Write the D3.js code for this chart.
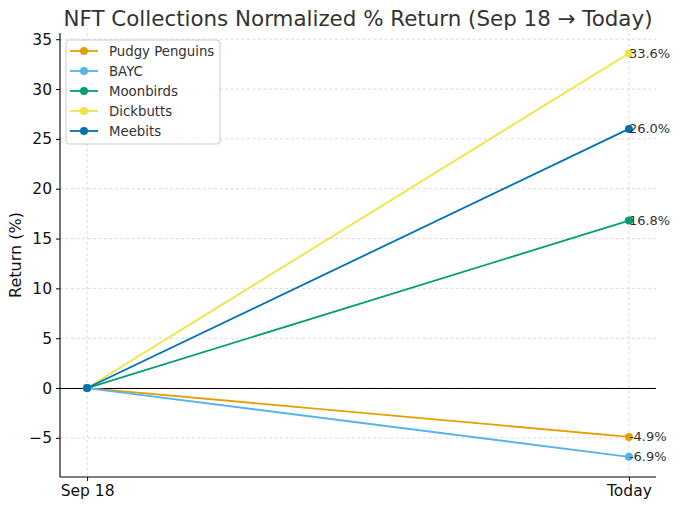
<!DOCTYPE html>
<html><head><meta charset="utf-8">
<script src="https://cdn.jsdelivr.net/npm/d3@7"></script>
<style>body{margin:0;background:#fff}svg{display:block}text{font-family:"DejaVu Sans",sans-serif}</style>
</head><body><svg id="c" width="680" height="508"></svg>
<script>
const categories = ["Sep 18", "Today"];
const seriesNames = ["Pudgy Penguins", "BAYC", "Moonbirds", "Dickbutts", "Meebits"];
const pudgy = [0, -4.9];
const bayc = [0, -6.9];
const moonbirds = [0, 16.8];
const dickbutts = [0, 33.6];
const meebits = [0, 26.0];
const colors = ["#E69F00", "#56B4E9", "#009E73", "#F0E442", "#0072B2"];
const yTicks = [-5, 0, 5, 10, 15, 20, 25, 30, 35];
const title = "NFT Collections Normalized % Return (Sep 18 \u2192 Today)";
const yLabel = "Return (%)";

const series = seriesNames.map((n, i) => ({name: n, values: [pudgy, bayc, moonbirds, dickbutts, meebits][i], color: colors[i]}));

const svg = d3.select("#c");
const L = 60, R = 656, T = 33, B = 477;
const x = d3.scaleLinear().domain([-0.05, 1.05]).range([L, R]);
const y = d3.scaleLinear().domain([-8.925, 35.625]).range([B, T]);

// grid
const g = svg.append("g");
g.selectAll(".gy").data(yTicks).join("line")
  .attr("x1", L).attr("x2", R).attr("y1", d => y(d)).attr("y2", d => y(d))
  .attr("stroke", "#cfcfcf").attr("stroke-width", 0.8).attr("stroke-dasharray", "3,2.5");
g.selectAll(".gx").data(categories).join("line")
  .attr("x1", (d, i) => x(i)).attr("x2", (d, i) => x(i)).attr("y1", T).attr("y2", B)
  .attr("stroke", "#cfcfcf").attr("stroke-width", 0.8).attr("stroke-dasharray", "3,2.5");

// zero line
svg.append("line").attr("x1", L).attr("x2", R).attr("y1", Math.round(y(0)) + 0.5).attr("y2", Math.round(y(0)) + 0.5)
  .attr("stroke", "#000").attr("stroke-width", 1);

// axes
const yAxis = d3.axisLeft(y).tickValues(yTicks).tickSize(4).tickPadding(4)
  .tickFormat(d => d < 0 ? "\u2212" + Math.abs(d) : d);
const ya = svg.append("g").attr("transform", `translate(${L},0)`).call(yAxis);
ya.select(".domain").attr("d", `M0,${T}V${B}`).attr("stroke", "#000").attr("stroke-width", 1.1);
ya.selectAll("text").attr("font-size", 15.5).attr("fill", "#111");
ya.selectAll(".tick line").attr("stroke", "#000");

const xAxis = d3.axisBottom(x).tickValues([0, 1]).tickSize(4).tickPadding(4)
  .tickFormat(d => categories[d]);
const xa = svg.append("g").attr("transform", `translate(0,${B})`).call(xAxis);
xa.select(".domain").attr("d", `M${L},0H${R}`).attr("stroke", "#000").attr("stroke-width", 1.1);
xa.selectAll("text").attr("font-size", 15.5).attr("fill", "#111");
xa.selectAll(".tick line").attr("stroke", "#000");

// lines
const line = d3.line().x((d, i) => x(i)).y(d => y(d));
series.forEach(s => {
  svg.append("path").attr("d", line(s.values)).attr("fill", "none")
    .attr("stroke", s.color).attr("stroke-width", 1.8);
  svg.selectAll(null).data(s.values).join("circle")
    .attr("cx", (d, i) => x(i)).attr("cy", d => y(d)).attr("r", 4).attr("fill", s.color);
});
// end labels
series.forEach(s => {
  const v = s.values[1];
  svg.append("text").attr("x", x(1)).attr("y", y(v)).attr("dy", "0.35em")
    .attr("font-size", 13).attr("fill", "#333")
    .text(v.toFixed(1) + "%");
});

// title
svg.append("text").attr("x", (L + R) / 2).attr("y", 26).attr("text-anchor", "middle")
  .attr("font-size", 21.4).attr("fill", "#333").text(title);
// y label
svg.append("text").attr("transform", `translate(21,${(T + B) / 2}) rotate(-90)`)
  .attr("text-anchor", "middle").attr("font-size", 16).attr("fill", "#111").text(yLabel);

// legend
const lg = svg.append("g");
lg.append("rect").attr("x", 66).attr("y", 40).attr("width", 154).attr("height", 104)
  .attr("rx", 3).attr("fill", "#fff").attr("fill-opacity", 0.85).attr("stroke", "#ccc");
series.forEach((s, i) => {
  const yy = 51 + i * 20;
  lg.append("line").attr("x1", 70).attr("x2", 98).attr("y1", yy).attr("y2", yy)
    .attr("stroke", s.color).attr("stroke-width", 1.8);
  lg.append("circle").attr("cx", 84).attr("cy", yy).attr("r", 4).attr("fill", s.color);
  lg.append("text").attr("x", 109).attr("y", yy).attr("dy", "0.35em")
    .attr("font-size", 13.3).attr("fill", "#333").text(s.name);
});
</script></body></html>
